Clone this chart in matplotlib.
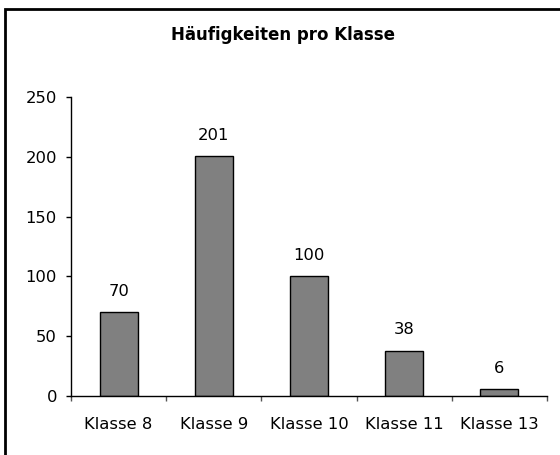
import matplotlib.pyplot as plt
from matplotlib.patches import Rectangle

plt.rcParams['font.family'] = ['DejaVu Sans']

klassen = ['Klasse 8', 'Klasse 9', 'Klasse 10', 'Klasse 11', 'Klasse 13']
haeufigkeit = [70, 201, 100, 38, 6]
yticks = [0, 50, 100, 150, 200, 250]

fig = plt.figure(figsize=(5.6, 4.55), dpi=100)
ax = fig.add_axes([0.1268, 0.1297, 0.85, 0.6571])

x = range(len(klassen))
ax.bar(x, haeufigkeit, width=0.4, color='#808080', edgecolor='black', linewidth=1)
for xi, v in zip(x, haeufigkeit):
    ax.annotate(str(v), (xi, v), xytext=(0, 14.8), textcoords='offset points',
                ha='center', va='center', fontsize=11.8)

ax.set_xlim(-0.5, len(klassen) - 0.5)
ax.set_ylim(0, 250)
ax.set_yticks(yticks)
# Trennstriche zwischen den Kategorien, Beschriftung in der Mitte
ax.set_xticks([i - 0.5 for i in range(len(klassen) + 1)])
ax.set_xticklabels([])
ax.set_xticks(list(x), minor=True)
ax.set_xticklabels(klassen, minor=True)
ax.tick_params(axis='x', which='minor', length=0, pad=15, labelsize=11.8)
ax.tick_params(axis='x', which='major', length=3.6, width=1, color='#555555')
ax.tick_params(axis='y', length=3.6, width=1, labelsize=11.8, pad=6.5)
for s in ['top', 'right']:
    ax.spines[s].set_visible(False)
for s in ['left', 'bottom']:
    ax.spines[s].set_linewidth(1)

fig.text(0.506, 0.922, 'Häufigkeiten pro Klasse', ha='center', va='center',
         fontsize=12, fontweight='bold')

# Rahmen um das Diagramm (rechts/unten abgeschnitten)
fig.patches.append(Rectangle((5 / 560, -0.1), 1.2, 1 - 9 / 455 + 0.1, transform=fig.transFigure,
                             fill=False, edgecolor='black', linewidth=2))

fig.savefig('out.png', dpi=100)
